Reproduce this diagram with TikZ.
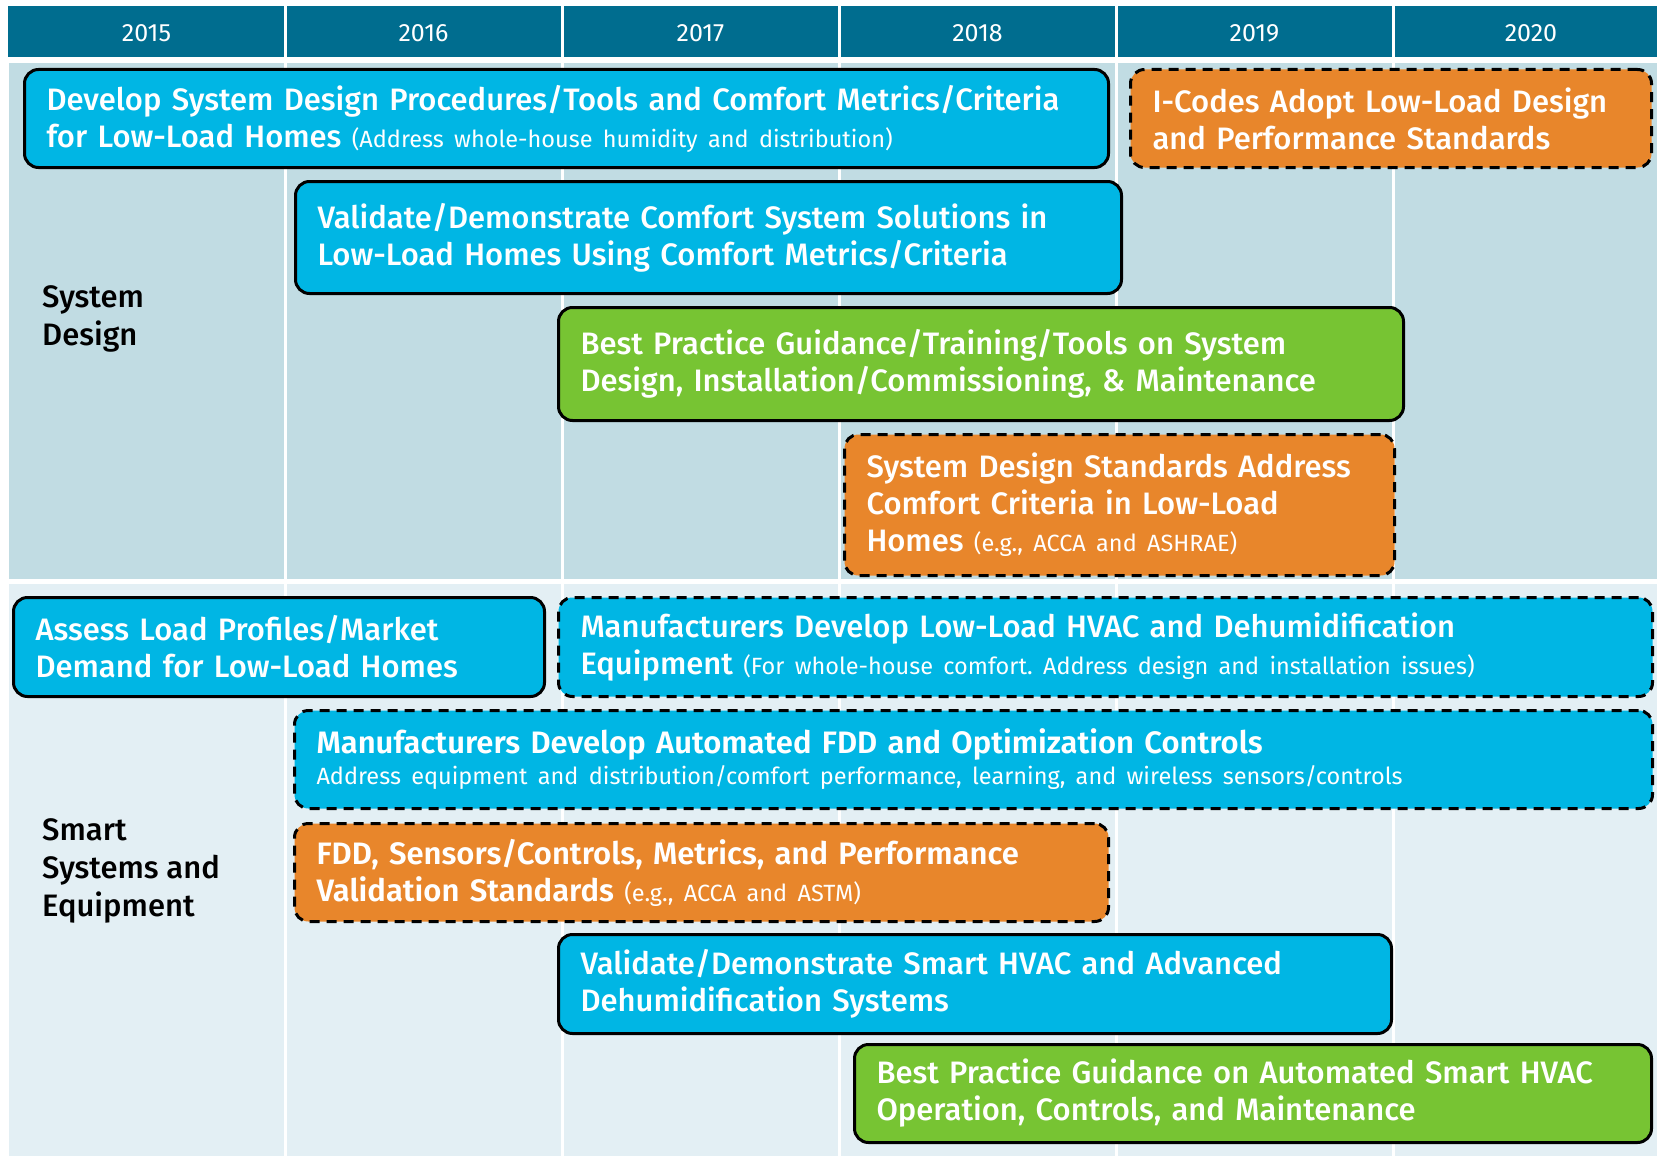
\documentclass[tikz,border=0pt]{standalone}
\usepackage{fontspec}
\setmainfont{Fira Sans}[UprightFont=* Medium, BoldFont=* SemiBold]
\newfontfamily\regfont{Fira Sans}
\definecolor{hdr}{HTML}{006D8F}
\definecolor{bandA}{HTML}{C1DCE3}
\definecolor{bandB}{HTML}{E3EFF4}
\definecolor{cy}{HTML}{00B6E4}
\definecolor{og}{HTML}{E8862B}
\definecolor{gr}{HTML}{77C433}
\frenchspacing
\newcommand\paren[1]{{\regfont\fontsize{23.5}{37}\selectfont #1}}
\newcommand\sub[1]{{\regfont\fontsize{23.5}{30}\selectfont #1}}
\tikzset{
  box/.style={draw=black, line width=3pt, rounded corners=14pt, anchor=north west,
    inner xsep=22pt, inner ysep=0pt, align=left, text=white,
    font=\fontsize{31}{37}\selectfont},
  cybox/.style={box, fill=cy},
  ogbox/.style={box, fill=og},
  grbox/.style={box, fill=gr},
  dbox/.style={dash pattern=on 10pt off 7pt},
  yr/.style={text=white, font=\regfont\fontsize{25}{25}\selectfont},
  rowlbl/.style={anchor=west, align=left, text=black, inner sep=0pt,
    font=\fontsize{31}{38}\selectfont},
  sep/.style={draw=white, line width=3pt}
}
\begin{document}
\begin{tikzpicture}[x=1pt,y=-1pt]
\useasboundingbox (0,0) rectangle (1657,1156);
\fill[white] (0,0) rectangle (1657,1156);
% header and bands
\fill[hdr] (8,6) rectangle (1657,57);
\fill[bandA] (9,63) rectangle (1657,579);
\fill[bandB] (9,584) rectangle (1657,1156);
\foreach \cx in {285,562,839,1116,1393}{
  \draw[sep] (\cx,6) -- (\cx,1156);
}
% years
\node[yr] (y15) at (146.5,33) {2015};
\node[yr] (y16) at (423.5,33) {2016};
\node[yr] (y17) at (700.5,33) {2017};
\node[yr] (y18) at (977.5,33) {2018};
\node[yr] (y19) at (1254.5,33) {2019};
\node[yr] (y20) at (1531,33) {2020};
% row labels
\node[rowlbl] (lsd) at (42,319) {System\\Design};
\node[rowlbl] (lsm) at (42,871) {Smart\\Systems and\\Equipment};
% System design boxes
\node[cybox, minimum width=1084pt, minimum height=98pt, text width=1040pt] (b1) at (23,68)
  {Develop System Design Procedures/Tools and Comfort Metrics/Criteria\\
   for Low-Load Homes \paren{(Address whole-house humidity and distribution)}};
\node[ogbox, dbox, minimum width=521pt, minimum height=98pt, text width=477pt] (b2) at (1129,68)
  {I-Codes Adopt Low-Load Design\\ and Performance Standards};
\node[cybox, minimum width=826pt, minimum height=112pt, text width=782pt] (b3) at (294,180)
  {Validate/Demonstrate Comfort System Solutions in\\ Low-Load Homes Using Comfort Metrics/Criteria};
\node[grbox, minimum width=845pt, minimum height=113pt, text width=801pt] (b4) at (557,306)
  {Best Practice Guidance/Training/Tools on System\\ Design, Installation/Commissioning, \& Maintenance};
\node[ogbox, dbox, minimum width=550pt, minimum height=141pt, text width=506pt] (b5) at (843,433)
  {System Design Standards Address\\ Comfort Criteria in Low-Load\\ Homes \paren{(e.g., ACCA and ASHRAE)}};
% Smart systems boxes
\node[cybox, minimum width=531pt, minimum height=99pt, text width=487pt] (b6) at (12,596)
  {Assess Load Profiles/Market\\ Demand for Low-Load Homes};
\node[cybox, dbox, minimum width=1094pt, minimum height=99pt, text width=1050pt] (b7) at (557,596)
  {Manufacturers Develop Low-Load HVAC and Dehumidification\\
   Equipment \paren{(For whole-house comfort. Address design and installation issues)}};
\node[cybox, dbox, minimum width=1358pt, minimum height=98pt, text width=1314pt] (b8) at (293,709)
  {\textbf{Manufacturers Develop Automated FDD and Optimization Controls}\\[-6pt]
   \sub{Address equipment and distribution/comfort performance, learning, and wireless sensors/controls}};
\node[ogbox, dbox, minimum width=814pt, minimum height=98pt, text width=770pt] (b9) at (293,822)
  {\textbf{FDD, Sensors/Controls, Metrics, and Performance}\\
   \textbf{Validation Standards} \paren{(e.g., ACCA and ASTM)}};
\node[cybox, minimum width=833pt, minimum height=99pt, text width=789pt] (b10) at (557,933)
  {Validate/Demonstrate Smart HVAC and Advanced\\ Dehumidification Systems};
\node[grbox, minimum width=797pt, minimum height=98pt, text width=753pt] (b11) at (853,1043)
  {Best Practice Guidance on Automated Smart HVAC\\ Operation, Controls, and Maintenance};
\end{tikzpicture}
\end{document}
